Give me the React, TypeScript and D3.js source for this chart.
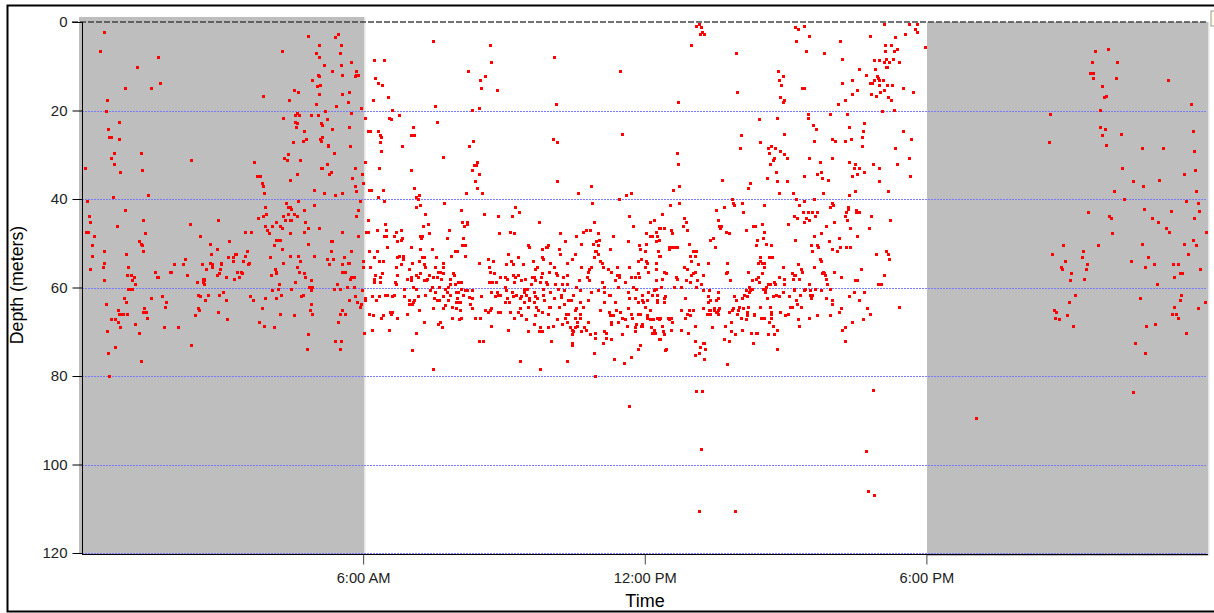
import { useEffect, useRef } from 'react';
import * as d3 from 'd3';

// [hour of day, depth in meters]
const predawnShallow = [
  [.47,2.3],[.39,6.6],[.55,17.6],[.53,20.2],[.8,22.5],[.57,24.1],[.59,26],[.62,26],[.8,26.4],[.7,29.6],[.62,30.8],[.69,32.1],[.82,33.9],[.08,33.1],[.67,39.5],[.92,15],[1.18,10.2],[1.48,15],[1.63,7.9],[1.67,13.7],[1.26,29.6],[1.28,33.5],[1.42,39.2],[2.34,31.2],[3.68,31.6],[3.73,34.8],[3.81,34.8],[3.84,36.4],[3.86,37],[3.88,38.7],[3.86,16.7],[4.28,6.6],[4.3,21.6],[4.42,17.6],[4.52,15.4],[4.62,15.8],[4.55,21],[4.59,20.6],[4.63,21],[4.54,22.5],[4.6,22.9],[4.57,23.7],[4.75,24.6],[4.79,26.4],[4.71,26.8],[4.5,27.2],[4.4,29.9],[4.32,30.8],[4.37,31.2],[4.65,31.2],[4.6,34.3],[4.44,35.6],[4.96,37.9],[4.82,3.1],[5.05,5.2],[4.99,7.1],[5.06,7.9],[5.16,9.8],[5.04,11.9],[5.06,12.3],[4.91,13.1],[5.09,14.2],[5.01,14.5],[5.06,16.2],[4.99,18.5],[4.89,21],[5.03,21],[5.18,20.2],[5.24,22],[5.11,22.9],[5.13,23.3],[5.34,24.1],[5.13,26],[5.09,26.4],[5.11,26.8],[5.26,27.7],[5.26,28.1],[5.38,29.6],[5.23,32.1],[5.11,33.1],[5.13,33.1],[5.31,33.9],[5.28,34.3],[5.16,38.7],[5.4,39.2],[5.56,38.7],[5.46,2.7],[5.4,3.5],[5.52,5.2],[5.5,7.1],[5.52,9.8],[5.34,11],[5.54,11.9],[5.75,9.1],[5.85,11],[5.82,12.3],[5.85,11.9],[5.89,11.9],[5.7,15.8],[5.56,16.2],[5.67,18.1],[5.42,18.9],[5.95,19.4],[5.74,20.6],[6.03,21.6],[5.7,23.7],[6.11,24.6],[5.72,28.1],[6.03,31.6],[5.82,33.1],[5.97,34.3],[5.77,35.2],[6,36.4],[5.82,37],[5.85,38.3],[6.13,37.9],
];

const predawnDeep = [
  [.12,40.5],[.17,43.8],[.19,45.3],[.1,47.4],[.13,47.4],[.27,48.4],[.23,50.5],[.23,52.8],[.19,55.9],[.45,55.3],[.49,51.7],[.49,54.4],[.49,58.4],[.75,46.1],[.92,42.5],[.94,52.4],[1,55.3],[.98,57.2],[1.06,57.2],[1.12,57.6],[1.08,58.4],[1.14,59.2],[1,60.3],[1.04,60.3],[1.07,60.3],[.9,62.3],[.94,63.2],[.53,63.8],[.77,65],[.8,65.9],[.85,65.9],[.89,65.9],[.98,65.9],[.63,67.1],[.72,67.1],[.77,67.7],[.82,69],[.55,69.9],[1.14,68.2],[1.22,70.2],[.71,73.4],[.57,74.7],[.59,80],[1.26,76.5],[1.22,49.6],[1.26,50.1],[1.28,50.5],[1.32,51.7],[1.32,44.8],[1.36,47.7],[1.48,62.4],[1.34,64.7],[1.3,65.5],[1.38,65.5],[1.4,66.8],[1.56,56.4],[1.6,57.6],[1.63,57.6],[1.71,61.9],[1.81,63.2],[1.78,64.3],[1.75,69],[2.05,69],[1.89,56.4],[1.91,56.4],[1.97,54.8],[2.17,54.8],[2.21,53.6],[2.24,57.2],[2.32,45.7],[2.52,48.4],[2.56,54.8],[2.66,55.9],[2.46,58.8],[2.58,58],[2.61,58],[2.58,58.8],[2.61,58.4],[2.6,59.2],[2.49,61.6],[2.52,61.9],[2.7,61.6],[2.64,62.8],[2.49,64.7],[2.5,65],[2.42,66.3],[2.34,72.9],[2.73,50.1],[2.76,52.4],[2.88,51.4],[2.91,44.8],[2.73,54.4],[2.78,54.8],[2.78,55.3],[2.98,54.4],[2.98,54.8],[2.95,55.9],[2.93,56.7],[2.89,57.2],[3.08,57.6],[3.25,58],[2.94,61.6],[3.02,61.1],[3.08,62.8],[2.91,65.5],[3.11,67.1],[3.15,49.6],[3.13,53.2],[3.23,53.2],[3.23,54],[3.27,52.4],[3.3,52.4],[3.31,56.4],[3.35,57.6],[3.39,56.4],[3.42,56.7],[3.44,54],[3.49,52.8],[3.52,51.7],[3.49,47.4],[3.62,47.4],[3.55,54.8],[3.57,54.4],[3.6,61.9],[3.66,62.8],[3.84,64.7],[3.79,67.7],[3.88,68.6],[4.1,69],[3.76,44.4],[3.86,43.8],[3.94,43.4],[3.92,41.7],[3.91,46.1],[3.96,46.9],[4,47.7],[4.06,46.1],[4.15,45.3],[4.22,46.1],[4.28,46.5],[4.3,43.8],[4.34,44.8],[4.4,43.4],[4.35,41],[4.4,41.7],[4.44,41.7],[4.46,42.2],[4.44,44.8],[4.47,44.8],[4.52,43.4],[4.6,43.8],[4.62,40.5],[4.44,47.7],[4.15,49.3],[4.19,49.3],[4.22,49.3],[4.1,50.5],[4.28,51.4],[4.01,53.2],[4.45,52.8],[4.62,52.8],[4.3,54.4],[4.65,54],[4.6,55.3],[4.12,55.9],[4.15,56.4],[4.14,56.7],[4.03,57.2],[4.63,56.4],[4.74,56.7],[4.77,57.6],[4.55,58.8],[4.2,59.2],[4.18,60.3],[4.06,60.6],[4.47,60.3],[4.24,61.6],[4.15,62.4],[3.92,62.4],[4.71,61.6],[4.67,61.9],[4.22,65.9],[4.52,66.3],[4.89,58.4],[4.85,59.8],[4.91,59.8],[4.89,60.6],[4.89,63.8],[4.87,65],[4.91,65.9],[4.83,70.6],[4.81,73.8],[4.73,42.5],[4.77,45.3],[4.83,46.5],[4.73,47.4],[4.83,50.1],[4.95,52.8],[4.95,41.3],[5.06,46.5],[5.24,53.6],[5.28,54.8],[5.31,49.6],[5.34,49.6],[5.31,51.7],[5.36,53.6],[5.38,60.3],[5.44,59.2],[5.5,60.3],[5.54,47.4],[5.54,54.8],[5.56,56.4],[5.6,56.4],[5.62,56.4],[5.6,53.2],[5.68,54.4],[5.7,54.4],[5.74,51.7],[5.75,57.6],[5.72,58],[5.77,57.6],[5.8,57.6],[5.65,59.8],[5.8,59.8],[5.7,62.8],[5.83,61.9],[5.87,63.2],[5.95,63.8],[5.93,64.3],[5.97,60.6],[6.03,62.8],[6.05,62.4],[5.54,65],[5.5,65.9],[5.62,65.9],[5.46,67.7],[5.4,72.1],[5.52,72.1],[5.5,73.8],[6.01,70.2],[5.85,43.8],[5.89,42.5],[5.93,40.5],[5.89,48.4],[6.07,47.4],[6.11,47.4],[6.11,44.8],[6.13,51.7],[6,54],[6,55.3],[6.15,55.3],[6.13,65.9],
];

const morningShallow = [
  [7.48,4.4],[8.7,5.2],[6.23,8.7],[6.45,8.7],[8.72,9.1],[8.23,11],[10.06,7.9],[11.48,11],[6.26,12.7],[6.31,13.7],[6.41,14.2],[8.59,12.3],[8.48,13.1],[8.52,15],[8.86,15.4],[6.53,17],[6.2,17.6],[7.53,18.9],[10.1,18.5],[6.61,19.8],[8.33,19.8],[8.46,19.4],[6.77,21],[6.55,21.6],[6.59,22],[7.58,22.5],[7.07,23.7],[6.14,24.6],[6.31,24.6],[6.37,25.6],[6.39,26],[7.02,25.6],[7.09,25.6],[6.35,27.2],[8.35,26.8],[8.25,28.1],[6.82,28.1],[6.39,29.1],[11.52,25.2],[10.04,26.4],[10.12,27.2],[7.7,30.4],[8.42,31.6],[8.36,32.4],[8.4,32.4],[6.33,33.1],[7.01,33.5],[8.31,33.5],[8.46,34.3],[8.39,36],[10.12,36],[10.85,37],[6.16,37.9],[6.43,37.9],[7.08,37.5],[8.42,37.5],[8.19,38.7],[8.54,38.7],[10.57,38.7],[11.7,38.7],[11.6,39.2],[7.18,39.2],[7.12,39.5],[7.16,40],[6.31,39.5],[11.46,40],
];

const morningDeep = [
  [6.45,40.5],[7.73,41],[7.12,41.7],[7.22,41.3],[8.09,42.5],[7.32,43.4],[8.58,43.4],[8.88,43.8],[9.17,43.8],[9.23,41.7],[9.33,43],[10.87,41],[11.67,43.8],[9.74,45.3],[8.11,45.3],[8.21,45.3],[8.21,45.7],[8.14,46.1],[7.38,45.7],[7.28,46.1],[6.47,45.7],[10.91,45.3],[11.74,46.1],[12.11,45.3],[12.19,44.8],[12.31,46.5],[6.49,46.9],[6.29,46.9],[6.69,47.4],[6.81,46.9],[7.83,46.9],[7.4,47.7],[8.9,47.7],[9.13,47.4],[9.21,47.7],[10.2,47.7],[10.69,47.4],[10.75,46.9],[10.83,46.9],[11.01,47.7],[12.02,47.7],[12.25,47.4],[6.45,48.4],[6.49,48.4],[6.65,48.4],[7.22,48.4],[7.26,48.4],[7.24,48.8],[6.82,48.8],[6.81,49.3],[6.73,49.6],[7.78,48.8],[8.13,48.8],[10.53,48.4],[11.32,48.4],[12.11,48.4],[12.15,48.4],[12.27,48.4],[10.3,49.6],[10.65,50.1],[10.89,50.1],[10.97,49.6],[11.03,49.3],[11.01,50.5],[11.64,49.6],[12.03,50.1],[11.87,50.5],[12.25,49.6],[8.11,50.5],[8.17,50.5],[9.51,50.5],[9.54,50.9],[6.51,50.9],[7.01,50.9],[7.22,51.4],[7.46,51.4],[6.29,51.7],[7.95,51.7],[7.99,51.7],[9.81,51.4],[9.89,50.9],[9.92,50.9],[9.94,50.5],[10.18,51.4],[10.2,52.4],[10.52,52.4],[10.93,51.7],[10.96,51.7],[11.01,52.4],[11.26,51.4],[11.9,51.4],[12,51.7],[12.29,51.7],[12.31,52.8],[6.76,52.8],[6.85,52.8],[6.73,53.2],[6.85,53.6],[6.23,53.2],[7.87,52.8],[8.17,52.8],[7.26,53.2],[7.29,53.2],[7.56,53.2],[9.08,52.4],[9.31,53.2],[9.81,53.2],[9.84,53.6],[8.66,53.6],[10.91,53.2],[10.44,53.6],[6.33,54],[6.43,54],[7.04,54.4],[7.18,54],[7.71,54.4],[8.76,54],[8.46,54.4],[9.15,54],[9.61,54],[9.98,54.4],[10.35,54.4],[11.05,54],[11.08,54.4],[11.85,54],[11.92,53.6],[12.02,54],[12.04,54.4],[12.23,54.4],[6.81,54.8],[7.3,54.8],[9.05,54.8],[9.19,54.8],[9.41,54.8],[6.69,55.3],[7.32,55.3],[7.53,55.3],[7.71,55.3],[8.68,55.3],[9.7,55.3],[10.06,55.3],[10.65,55.3],[10.85,55.3],[11.11,55.3],[11.41,55.3],[11.66,55.3],[12,55.3],[6.97,55.9],[8.7,56.4],[9.66,55.9],[10.82,55.9],[11.21,55.9],[12.07,56.4],[12.23,55.9],[7.59,56.4],[7.63,56.4],[7.71,56.7],[8.78,56.7],[9.96,56.4],[10.1,56.7],[9.81,56.7],[10.79,56.4],[11.29,56.4],[11.41,57.2],[11.45,57.2],[11.85,56.7],[6.26,57.2],[6.41,56.7],[6.73,57.2],[7.12,57.2],[7.22,56.7],[7.41,57.2],[7.49,57.6],[7.58,57.6],[7.91,56.7],[7.93,57.2],[8.92,57.6],[9.02,57.6],[9.07,58],[9.19,57.2],[9.23,57.6],[9.31,57.2],[9.45,58],[9.6,57.6],[9.65,57.6],[9.8,57.6],[10.12,57.2],[10.25,57.6],[10.34,57.2],[10.77,57.6],[11.46,57.6],[11.7,57.6],[11.8,57.6],[11.87,57.6],[6.37,57.6],[6.93,58],[6.23,58],[7.01,57.6],[7.16,57.6],[7.36,58],[7.34,58.4],[7.29,58.4],[7.01,58.4],[7.65,58],[7.85,58],[6.23,58.8],[6.37,58.8],[6.67,58.8],[6.71,59.2],[7.85,59.2],[7.96,59.2],[8.03,58.8],[8.09,58.8],[8.68,58.8],[8.74,58.8],[8.84,58.8],[9.21,58.8],[9.37,58.4],[9.57,59.2],[9.66,58.4],[9.76,58.8],[9.89,58.8],[9.92,59.2],[10.08,59.2],[10.24,59.2],[10.35,59.2],[10.6,58.4],[10.81,58.4],[11.08,58.8],[11.36,58.4],[11.58,58.8],[12.25,58.4],
  [7.46,59.8],[7.61,59.8],[7.07,59.8],[6.87,60.3],[7.12,60.3],[7.75,60.3],[7.8,59.8],[7.43,60.6],[7.53,61.1],[7.78,61.1],[7.85,61.6],[7.97,61.1],[8.03,61.1],[8.09,60.3],[8.17,60.6],[8.21,60.6],[8.31,60.6],[8.13,61.6],[8.25,62.1],[8.72,61.1],[8.86,61.1],[8.88,61.6],[8.92,61.6],[9.03,59.8],[9.05,60.6],[9.17,61.1],[9.25,61.6],[9.43,60.3],[9.49,60.3],[9.42,61.1],[9.37,61.9],[9.47,61.6],[9.63,61.1],[9.66,61.9],[9.83,60.3],[9.98,61.1],[9.84,61.6],[10.16,60.3],[10.22,61.6],[10.28,60.6],[10.54,59.8],[10.63,60.6],[10.85,61.1],[11,60.6],[11.14,59.8],[11.26,61.6],[11.23,61.6],[11.42,59.8],[11.14,61.1],[11.76,59.8],[11.64,61.1],[11.82,60.3],[11.95,61.6],[12.06,61.1],[12.19,60.6],[12.25,60.3],[12.15,61.6],[6.18,61.9],[6.33,61.9],[6.47,61.6],[6.51,61.6],[6.61,61.9],[6.65,61.6],[6.87,61.9],[7.16,61.9],[7.32,61.6],[7.51,62.4],[7.57,62.8],[7.62,62.8],[7.8,62.8],[7.7,61.9],[7.99,62.4],[8.03,63.2],[7.97,63.2],[8.07,63.2],[8.31,62.4],[8.51,61.9],[8.8,61.9],[9.06,62.4],[9.03,63.2],[9.1,63.2],[9.19,61.9],[9.35,62.4],[9.42,63.2],[9.54,62.4],[9.53,62.8],[9.63,63.2],[9.7,62.4],[9.86,62.9],[10.06,62.4],[10.22,62.1],[10.37,62.8],[10.43,62.8],[10.48,61.7],[10.61,63.2],[10.79,62.8],[11.14,63.2],[11.36,63.2],[11.67,62.4],[11.8,62.4],[11.94,62.8],[11.97,63.2],[11.85,63.2],[12.04,62.8],[12.26,62.8],[6.27,62.8],[6.97,62.8],[7.09,62.8],[7.07,63.2],[6.97,63.8],[7.04,63.8],[7.49,64.6],[7.71,64.6],[7.75,64],[7.89,64.3],[7.97,64.7],[8.07,65],[8.27,63.8],[8.33,64.7],[8.88,65.5],[8.92,65.5],[8.7,65],[8.73,64.7],[8.6,65],[8.66,65.5],[9.13,65.5],[9.35,64.7],[9.29,65.5],[9.51,64.3],[9.69,64.3],[9.73,65.1],[9.81,65.5],[9.96,64.3],[9.98,64.3],[9.94,65.9],[10.18,64.3],[10.28,63.8],[10.32,65.9],[10.37,65.9],[10.54,64.7],[10.61,65.9],[10.52,65.1],[10.69,64.3],[11.05,65],[11.23,65.5],[11.39,65],[11.48,65.5],[11.64,64.7],[11.7,65.9],[11.86,65.9],[11.9,65.9],[12,64.3],[12.11,65],[12.04,66.3],[6.13,65.9],[6.2,66.3],[6.43,66.3],[6.39,66.8],[6.57,65.5],[6.61,65.5],[6.59,65.9],[6.73,66.8],[6.94,65.9],[7.18,65],[7.89,66.8],[8.05,67.1],[8.09,66.8],[8.39,66.8],[8.48,66.8],[9.22,66.8],[9.37,66.3],[9.47,67.1],[9.66,66.3],[10.13,67.1],[10.3,66.8],[10.52,66.8],[10.35,67.7],[10.61,66.8],[11.26,66.3],[11.32,66.3],[11.51,66.8],[11.58,67.1],[11.72,66.8],[12.11,67.1],[12.17,67.1],[12.26,66.8],[12.31,67],[7.3,67.7],[7.63,67.7],[7.6,68.2],[7.67,69],[6.55,69.5],[6.18,69.5],[7.12,70.2],[8.72,68.6],[9.08,69.5],[9.63,68.2],[9.77,69],[9.51,69.9],[9.75,69.9],[9.81,69.9],[9.93,69],[10.04,68.6],[10.24,68.2],[10.41,69],[10.44,69.5],[10.55,67.7],[10.55,68.6],[10.52,69],[10.48,69.9],[10.44,70.6],[10.65,69.9],[10.71,69],[10.75,69.5],[10.79,67.7],[10.83,70.6],[10.95,70.2],[10.95,71.3],[11.14,69.9],[11.18,70.2],[11.17,71.3],[11.28,67.7],[11.28,68.2],[11.42,67.7],[11.52,70.6],[11.62,68.6],[11.8,69],[11.82,68.2],[11.94,68.6],[11.95,68.2],[11.8,69.9],[12.13,69],[12.19,69.5],[12.15,70.2],[12.21,70.2],[12.31,71.7],[11.28,71.7],[11.12,72.6],[10.91,74.7],[10.44,72.6],[10.45,72.9],[10,72.1],[11.89,72.9],[11.85,73.8],[11.7,75.7],[11.55,77],[11.35,76.1],[10.34,76.5],[9.35,76.5],[9.76,78.5],[8.46,72.1],[8.56,72.1],[7.04,74.2],[7.48,78.5],[10.93,80],
];

const afternoonShallow = [
  [13.15,.4],[13.1,.8],[13.2,1.2],[13.23,2.2],[13.18,2.7],[13.27,2.7],[12.98,5.2],[13.95,7.1],[12.71,18.1],[13.97,15.8],[14.83,11],[14.94,12.3],[14.87,13.1],[14.91,14.2],[14.89,17],[14.97,17.6],[14.95,18.1],[15.21,1.2],[15.27,1.6],[15.39,.8],[15.5,3.1],[15.23,4.4],[15.43,6.6],[15.82,7.1],[16.16,4.4],[16.2,8.3],[15.36,15],[15.4,15],[16.21,13.7],[16.41,13.1],[16.57,10.6],[16.71,11.9],[16.41,16.2],[16.53,15.4],[16.26,17.6],[16.12,18.5],[16.79,3.1],[17.09,.4],[17.34,3.5],[17.12,5.2],[17.24,5.2],[17.12,6.6],[17.32,6.6],[17.38,6.2],[17.54,2.7],[17.64,.4],[17.79,.4],[17.76,1.6],[17.81,2.2],[17.97,5.6],[16.89,8.7],[16.99,8.7],[17.14,8.3],[17.28,8.3],[17.09,9.1],[17.2,9.1],[17.42,9.1],[16.9,10.6],[17.14,10.2],[17.17,10.2],[16.95,12.3],[16.97,12.7],[16.89,13.1],[17,13.1],[17.07,13.1],[16.79,13.7],[16.85,13.7],[17,14.2],[17.17,14.2],[17.27,14.2],[17.5,15],[17.1,15.4],[17.02,15.8],[16.81,16.2],[16.92,16.7],[17.71,15.8],[17.18,17],[17.24,17.6],[17.3,19.8],[17.05,20.2],[15.47,20.7],[15.47,21.6],[15.94,20.7],[16.31,20.7],[14.44,22],[14.82,21.6],[15.58,23.3],[15.65,24.1],[16.67,22.9],[16.36,23.7],[16.65,24.6],[17.51,24.6],[14.97,25.2],[14.04,25.6],[16.63,26],[16.39,26.4],[15.98,26.4],[16.06,26.8],[16.26,26.8],[15.6,26.8],[17.68,26.4],[14.46,27.2],[14.69,28.1],[14.62,28.5],[14.77,28.5],[14.03,28.5],[16.63,28.1],[17.34,28.5],[14.64,29.6],[14.89,29.1],[12.68,29.6],[14.97,29.9],[15.03,30.8],[14.76,30.8],[14.74,31.2],[14.66,32.1],[15.5,30.8],[16,30.8],[15.73,31.6],[16.36,31.6],[16.49,32.1],[16.87,32.1],[17.38,32.1],[17.64,30.8],[12.71,32.1],[16.46,33.1],[16.57,33.1],[17,33.1],[16.67,33.9],[14.79,33.9],[15.76,33.9],[15.68,34.3],[16.53,34.3],[15.39,34.8],[16.41,34.8],[17.66,34.8],[14.6,35.2],[15.78,35.2],[13.65,35.6],[15.9,35.6],[14.82,36],[15.03,36],[16.99,36],[14.24,36.4],[12.73,37],[14.2,37.5],[12.61,37.9],[14.85,38.7],[15.15,38.7],[15.8,38.7],[16.47,38.3],[17.18,38.3],[16.36,39.2],[13.85,40],[15.23,40],[15.6,40],
];

const afternoonDeep = [
  [12.54,41.3],[12.74,41],[12.36,43.4],[13.69,41.7],[13.52,42.5],[13.89,41],[13.91,41.3],[14.08,41],[14.1,43],[14.55,41.3],[15.29,41.3],[15.4,40.5],[15.98,41],[16.02,41.3],[15.94,41.7],[16.34,41.7],[16.34,42.2],[16.29,43],[16.26,43.8],[16.51,42.5],[16.51,43],[16.57,43],[16.82,43.8],[15.37,43],[15.47,43],[15.57,43],[15.66,43],[15.62,43.8],[15.19,43.8],[15.25,44.4],[15.43,44.4],[15.5,44.8],[15.4,45.3],[16.31,44.8],[17.22,44.8],[12.84,44.4],[12.88,45.3],[12.82,46.1],[12.9,46.9],[13.55,44.8],[13.59,46.1],[13.63,46.1],[13.61,46.5],[14.3,46.1],[14.35,46.1],[14.5,45.7],[14.54,47.4],[14.15,46.9],[15.06,45.7],[15.86,46.1],[16.04,45.3],[16.38,46.5],[16.77,46.5],[12.33,46.5],[12.42,46.5],[12.56,46.9],[12.59,47.7],[12.31,49.3],[13.74,47.4],[13.79,47.7],[13.45,48.8],[13.38,49.3],[14.4,49.3],[14.52,48.8],[14.58,50.1],[14.68,50.5],[14.36,50.5],[13.49,50.9],[15.21,49.3],[15.6,48.4],[15.76,47.7],[16.14,48.8],[16.53,48.4],[15.92,49.6],[15.55,50.5],[15.68,50.5],[15.7,50.9],[16.16,50.9],[16.28,50.9],[16.37,50.9],[15.98,51.4],[16.09,51.7],[15.57,51.7],[12.94,50.1],[12.51,50.9],[12.51,51.4],[12.59,50.9],[12.63,50.9],[12.68,50.9],[13.02,51.7],[13.1,51.7],[12.33,52.8],[12.96,52.8],[13.06,52.8],[16.92,52.4],[17.14,51.7],[17.18,52.4],[17.2,53.6],[14.45,53.2],[14.64,53.2],[14.72,53.2],[15.73,53.6],[15.75,54],[12.98,54],[13.34,54.4],[13.75,54.4],[14.42,54.4],[14.46,54],[14.5,54.4],[14.54,54.4],[15.27,54.8],[12.84,55.3],[13.14,54.8],[14.94,55.3],[14.55,55.3],[15.6,55.3],[12.9,55.9],[12.41,56.4],[12.46,56.7],[13.08,56.4],[13.02,56.7],[12.98,57.2],[13.25,57.2],[13.75,56.4],[13.73,56.7],[14.2,56.4],[14.5,56.7],[14.85,57.6],[15.13,56.7],[15.17,57.2],[15.21,57.2],[15.33,55.9],[15.35,56.4],[15.79,56.4],[15.82,56.7],[15.78,56.7],[15.83,57.2],[16.04,56.4],[16.18,57.6],[16.6,55.9],[17.1,57.2],[12.66,57.6],[12.68,58],[12.37,58],[12.88,58.4],[12.96,58.8],[13.12,58.4],[13.2,59.2],[13.81,58.4],[14.28,58.4],[14.37,58],[14.42,57.6],[14.43,58.8],[14.75,58.8],[14.77,59.2],[14.62,59.2],[14.66,59.2],[14.96,58],[14.96,59.2],[15.15,58],[15.29,58],[15.49,59.2],[15.86,58],[15.89,59.2],[16.47,58.4],[16.53,58.4],[16.98,59.2],[17.04,59.2],
  [12.35,59.8],[12.62,59.8],[12.78,59.8],[13.1,59.8],[14.22,59.8],[14.28,60.3],[14.59,59.8],[14.56,60.3],[14.52,60.3],[15.17,60.3],[15.19,60.6],[15.4,60.6],[15.42,60.3],[15.63,60.3],[15.53,60.6],[15.75,60.6],[15.94,60.3],[12.21,60.3],[12.27,61.6],[13.25,60.6],[13.36,60.6],[13.57,61.1],[14.15,60.6],[14.25,60.6],[14.23,61.1],[14.12,61.6],[14.18,61.9],[14.57,61.1],[14.94,61.1],[14.8,61.6],[14.85,61.9],[14.73,61.9],[14.6,62.4],[15.07,61.9],[15.31,61.6],[15.53,61.6],[15.57,61.6],[15.55,62.4],[15.86,62.4],[16,62.8],[16.36,61.9],[16.45,61.1],[16.68,61.1],[16.57,62.8],[12.44,61.9],[12.4,62.4],[12.27,63.2],[12.4,63.2],[12.86,62.4],[13.34,61.9],[13.39,62.8],[13.35,63.2],[13.55,62.4],[13.51,62.8],[13.91,61.9],[13.95,62.8],[14.08,62.4],[15.23,62.8],[15.25,63.8],[15.33,64.3],[15.09,64.3],[15.13,64.3],[16,63.8],[16.18,64.7],[16.73,64.7],[17.41,64.3],[12.77,65],[12.94,65],[13.02,65],[13.24,64.7],[13.36,65],[13.39,65],[13.47,64.7],[13.47,65],[13.59,64.7],[13.57,65],[13.51,65.5],[13.53,65.5],[13.55,65.9],[13.32,65.9],[13.39,65.9],[12.9,65.9],[12.97,66.3],[12.86,66.8],[13.79,65.5],[13.85,65],[13.89,64.7],[14,64.3],[13.98,65],[14.1,64.7],[14.2,64.3],[14.18,65.5],[13.97,65.9],[14.18,66.3],[14.05,66.8],[14.15,67.1],[14.32,65.9],[14.32,66.3],[14.46,64.3],[14.66,64.3],[14.69,65.5],[14.68,65.9],[14.89,65.5],[15.06,65.9],[14.99,66.3],[14.47,66.8],[14.52,66.8],[14.54,66.8],[14.69,66.8],[15.27,67.1],[15.49,66.8],[15.66,66.3],[15.94,66.3],[16.14,65.5],[16.8,65.9],[16.65,67.1],[16.41,67.7],[14.64,67.7],[13.83,67.7],[14.74,68.6],[15.28,68.6],[16.27,69],[16.21,69.5],[14.82,69.5],[14.08,69.5],[13.71,68.6],[13.83,69.9],[13.93,70.6],[14.26,70.2],[14.36,70.2],[14.4,70.2],[14.62,70.6],[14.75,70.6],[13.44,69],[13.08,68.6],[12.92,70.2],[12.78,69.5],[12.55,69.5],[12.58,67.7],[12.51,67.1],[12.49,66.8],[12.56,66.8],[12.29,66.8],[12.33,66.8],[12.3,67.1],[12.12,67.1],[12.17,67.1],[12.05,66.8],[11.95,68.2],[11.92,68.6],[12.37,68.6],[12.39,69.9],[12.41,70.6],[12.33,71.7],[12.46,73.8],[12.44,74.2],[13.06,72.1],[13.25,72.6],[13.27,72.6],[13.18,73.4],[13.29,73.8],[13.15,74.7],[13.06,75.3],[13.27,76.1],[13.75,77.3],[13.69,71.7],[13.79,72.1],[14.3,72.6],[14.82,73.8],[16.26,72.1],
];

const veryDeep = [
  [11.66,86.7],[13.09,83.5],[13.22,83.5],[16.86,83.2],[13.19,96.6],[16.72,97],[16.76,106],[16.89,106.8],[13.16,110.4],[13.92,110.4],[19.06,89.6],
];

const evening = [
  [21.6,6.6],[21.88,6.2],[21.52,9.1],[22.07,9.1],[21.48,11.5],[21.56,11.5],[21.54,12.7],[22.03,12.7],[21.75,14.5],[21.83,16.7],[21.78,17],[23.14,13.1],[23.63,18.5],[21.7,19.8],[20.63,20.7],[21.7,23.7],[21.8,24.1],[21.75,25.6],[22.15,25.2],[23.69,24.6],[20.61,27.2],[21.83,27.7],[22.59,28.5],[23.04,28.5],[23.71,29.1],[22.17,33.1],[23.73,33.5],[23.49,34.3],[22.96,35.6],[22.41,36],[22.61,37],[21.99,38.3],[23.75,38.3],[22.21,40],
  [23.53,40.5],[23.79,40.9],[22.63,42.2],[23.22,42.6],[23.81,42.6],[21.44,43],[21.9,43.8],[21.93,44.4],[22.81,44.4],[23.71,44.4],[22.94,45.3],[23.1,46.5],[23.16,47.4],[23.96,47.4],[21.95,47.7],[23.69,49.3],[22.59,50.1],[23.49,50.1],[23.75,50.5],[20.91,50.5],[21.66,50.5],[21.33,51.7],[20.67,52.4],[23.57,52.4],[21.31,53.2],[22.73,53.2],[20.95,54],[22.37,54],[21.42,54.8],[22.84,54.8],[23.26,54.8],[23.36,54.8],[20.87,55.3],[22.66,55.3],[20.89,55.9],[21.4,55.9],[23.83,55.9],[21.09,56.7],[23.4,56.7],[23.44,56.7],[23.27,57.6],[21.36,58],[21.07,58.4],[22.91,59.2],[21.17,61.6],[23.42,61.6],[22.56,62.4],[23.4,62.8],[21.03,63.2],[23.93,63.2],[23.27,64.3],[23.79,64.7],[20.71,65],[20.77,65.5],[23.24,65.9],[23.32,65.9],[20.99,66.3],[20.75,66.8],[20.83,67.1],[23.36,66.8],[22.88,68.2],[21.13,68.6],[22.68,68.6],[23.53,70.2],[22.45,72.6],[22.66,74.7],[22.41,83.6],
];

const depthTicks = [0, 20, 40, 60, 80, 100, 120];
const timeTicks = [6, 12, 18];
const timeLabels = ['6:00 AM', '12:00 PM', '6:00 PM'];

const FONT = '"Liberation Sans", Arial, sans-serif';

export default function App() {
  const ref = useRef<SVGSVGElement | null>(null);

  useEffect(() => {
    const svg = d3.select(ref.current);
    svg.selectAll('*').remove();

    const width = 1214;
    const height = 613;

    const x = d3.scaleLinear().domain([0, 24]).range([81.5, 1208]);
    const y = d3.scaleLinear().domain([0, 120]).range([22, 553]);

    svg.attr('width', width).attr('height', height);

    svg.append('rect')
      .attr('width', width).attr('height', height).attr('fill', '#fff');

    // night bands
    svg.append('rect')
      .attr('x', 79).attr('y', 17).attr('width', 285).attr('height', 537)
      .attr('fill', '#bebebe');
    svg.append('rect')
      .attr('x', 364).attr('y', 17).attr('width', 1.5).attr('height', 537)
      .attr('fill', '#e4e4e4');
    svg.append('rect')
      .attr('x', 927).attr('y', 22).attr('width', 281).attr('height', 534)
      .attr('fill', '#bebebe');
    svg.append('rect')
      .attr('x', 1208).attr('y', 22).attr('width', 1.5).attr('height', 534)
      .attr('fill', '#e4e4e4');

    // gridlines
    svg.append('g')
      .selectAll('line')
      .data(depthTicks.slice(1))
      .join('line')
      .attr('x1', 82).attr('x2', 1206)
      .attr('y1', d => Math.round(y(d)) + 0.5)
      .attr('y2', d => Math.round(y(d)) + 0.5)
      .attr('stroke', '#7a7aff')
      .attr('stroke-width', 1)
      .attr('stroke-dasharray', '2,1');

    svg.append('line')
      .attr('x1', 72).attr('x2', 1208)
      .attr('y1', y(0)).attr('y2', y(0))
      .attr('stroke', '#444')
      .attr('stroke-width', 1.3)
      .attr('stroke-dasharray', '6,2');

    // axes
    const yAxis = svg.append('g').attr('transform', 'translate(82.5,0)');
    yAxis.call(d3.axisLeft(y).tickValues(depthTicks).tickSize(10).tickPadding(5));
    yAxis.select('.domain').attr('d', `M0,${y(0)}V554.5`).attr('stroke', '#000');
    yAxis.selectAll('text')
      .attr('font-family', FONT).attr('font-size', 15).attr('fill', '#222');

    const xAxis = svg.append('g').attr('transform', 'translate(0,554.5)');
    xAxis.call(
      d3.axisBottom(x)
        .tickValues(timeTicks)
        .tickSize(10)
        .tickPadding(8)
        .tickFormat((_, i) => timeLabels[i])
    );
    xAxis.select('.domain').attr('d', `M82,0H1208`).attr('stroke', '#000');
    xAxis.selectAll('.tick line').attr('stroke', '#444');
    xAxis.selectAll('text')
      .attr('font-family', FONT).attr('font-size', 14.7).attr('fill', '#222');

    svg.append('text')
      .attr('x', 645).attr('y', 607)
      .attr('text-anchor', 'middle')
      .attr('font-family', FONT).attr('font-size', 18).attr('fill', '#000')
      .text('Time');

    svg.append('text')
      .attr('transform', 'translate(23,285) rotate(-90)')
      .attr('text-anchor', 'middle')
      .attr('font-family', FONT).attr('font-size', 17.8).attr('fill', '#000')
      .text('Depth (meters)');

    // detections
    const points = [
      ...predawnShallow, ...predawnDeep,
      ...morningShallow, ...morningDeep,
      ...afternoonShallow, ...afternoonDeep,
      ...veryDeep, ...evening,
    ];
    svg.append('g')
      .attr('fill', '#ff0000')
      .selectAll('rect')
      .data(points)
      .join('rect')
      .attr('x', d => Math.round(x(d[0])) - 1)
      .attr('y', d => Math.round(y(d[1])) - 1)
      .attr('width', 3)
      .attr('height', 3);

    // frame
    svg.append('path')
      .attr('d', 'M1214,5.5H7.5V611.5H1214')
      .attr('fill', 'none')
      .attr('stroke', '#000')
      .attr('stroke-width', 2);

    // bit of a tooltip box cut off at the right edge
    svg.append('rect')
      .attr('x', 1211).attr('y', 11).attr('width', 6).attr('height', 15)
      .attr('fill', '#fffbe6')
      .attr('stroke', '#999');
  }, []);

  return <svg ref={ref} style={{ position: 'absolute', left: 0, top: 0, display: 'block' }} />;
}
